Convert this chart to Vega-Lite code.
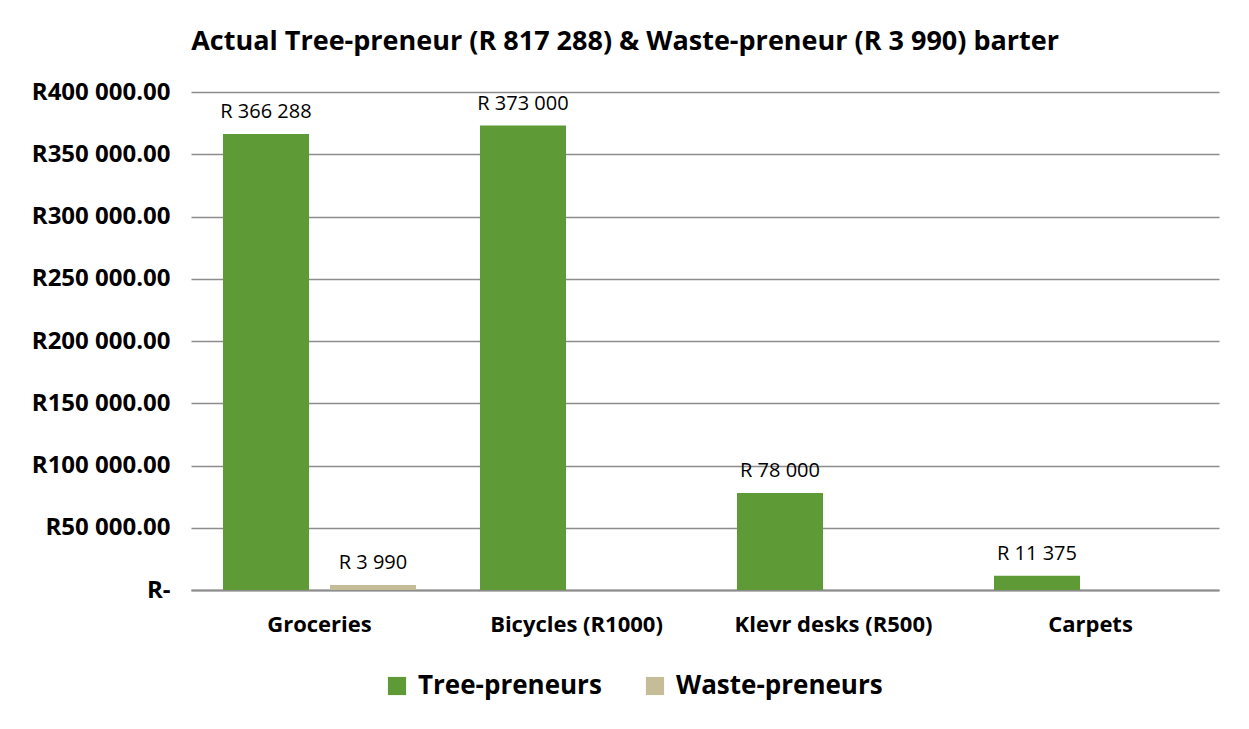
{
  "$schema": "https://vega.github.io/schema/vega-lite/v6.json",
  "autosize": {"type": "none"},
  "width": 1028,
  "height": 498,
  "padding": {"left": 191, "top": 92, "right": 30, "bottom": 139},
  "background": "white",
  "config": {
    "font": "Open Sans",
    "locale": {"number": {"decimal": ".", "thousands": " ", "grouping": [3], "currency": ["R ", ""]}},
    "view": {"stroke": null}
  },
  "title": {
    "text": "Actual Tree-preneur (R 817 288) & Waste-preneur (R 3 990) barter",
    "fontSize": 27,
    "fontWeight": "bold",
    "color": "black",
    "anchor": "middle",
    "frame": "bounds",
    "offset": 24
  },
  "data": {
    "values": [
      {"category": "Groceries", "group": "Tree-preneurs", "value": 366288},
      {"category": "Groceries", "group": "Waste-preneurs", "value": 3990},
      {"category": "Bicycles (R1000)", "group": "Tree-preneurs", "value": 373000},
      {"category": "Klevr desks (R500)", "group": "Tree-preneurs", "value": 78000},
      {"category": "Carpets", "group": "Tree-preneurs", "value": 11375}
    ]
  },
  "encoding": {
    "x": {
      "field": "category",
      "type": "nominal",
      "sort": ["Groceries", "Bicycles (R1000)", "Klevr desks (R500)", "Carpets"],
      "scale": {"paddingInner": 0, "paddingOuter": 0},
      "axis": {
        "title": null,
        "labelAngle": 0,
        "labelFontSize": 22,
        "labelFontWeight": "bold",
        "labelColor": "black",
        "labelPadding": 24,
        "labelLimit": 400,
        "ticks": false,
        "domainColor": "#8c8c8c",
        "domainWidth": 2
      }
    },
    "xOffset": {
      "field": "group",
      "type": "nominal",
      "scale": {"domain": ["Tree-preneurs", "Waste-preneurs"], "paddingInner": 0.196, "paddingOuter": 0.299}
    },
    "y": {
      "field": "value",
      "type": "quantitative",
      "scale": {"domain": [0, 400000]},
      "axis": {
        "title": null,
        "values": [0, 50000, 100000, 150000, 200000, 250000, 300000, 350000, 400000],
        "labelOverlap": false,
        "labelExpr": "datum.value == 0 ? 'R-' : 'R' + format(datum.value, ',.2f')",
        "labelFontSize": 24,
        "labelFontWeight": "bold",
        "labelColor": "black",
        "labelPadding": 21,
        "labelLimit": 400,
        "ticks": false,
        "domain": false,
        "gridColor": "#8c8c8c",
        "gridWidth": 1.5
      }
    }
  },
  "layer": [
    {
      "mark": {"type": "bar"},
      "encoding": {
        "color": {
          "field": "group",
          "type": "nominal",
          "scale": {"domain": ["Tree-preneurs", "Waste-preneurs"], "range": ["#5E9A35", "#C4BD97"]},
          "legend": {
            "title": null,
            "orient": "none",
            "legendX": 193,
            "legendY": 581,
            "direction": "horizontal",
            "symbolType": "square",
            "symbolSize": 330,
            "symbolStrokeWidth": 0,
            "labelFontSize": 26,
            "labelFontWeight": "bold",
            "labelColor": "black",
            "labelLimit": 400,
            "labelOffset": 8,
            "columnPadding": 40
          }
        }
      }
    },
    {
      "mark": {"type": "text", "baseline": "bottom", "dy": -12, "fontSize": 20, "color": "black"},
      "encoding": {
        "text": {"field": "value", "type": "quantitative", "format": "$,.0f"}
      }
    }
  ]
}
